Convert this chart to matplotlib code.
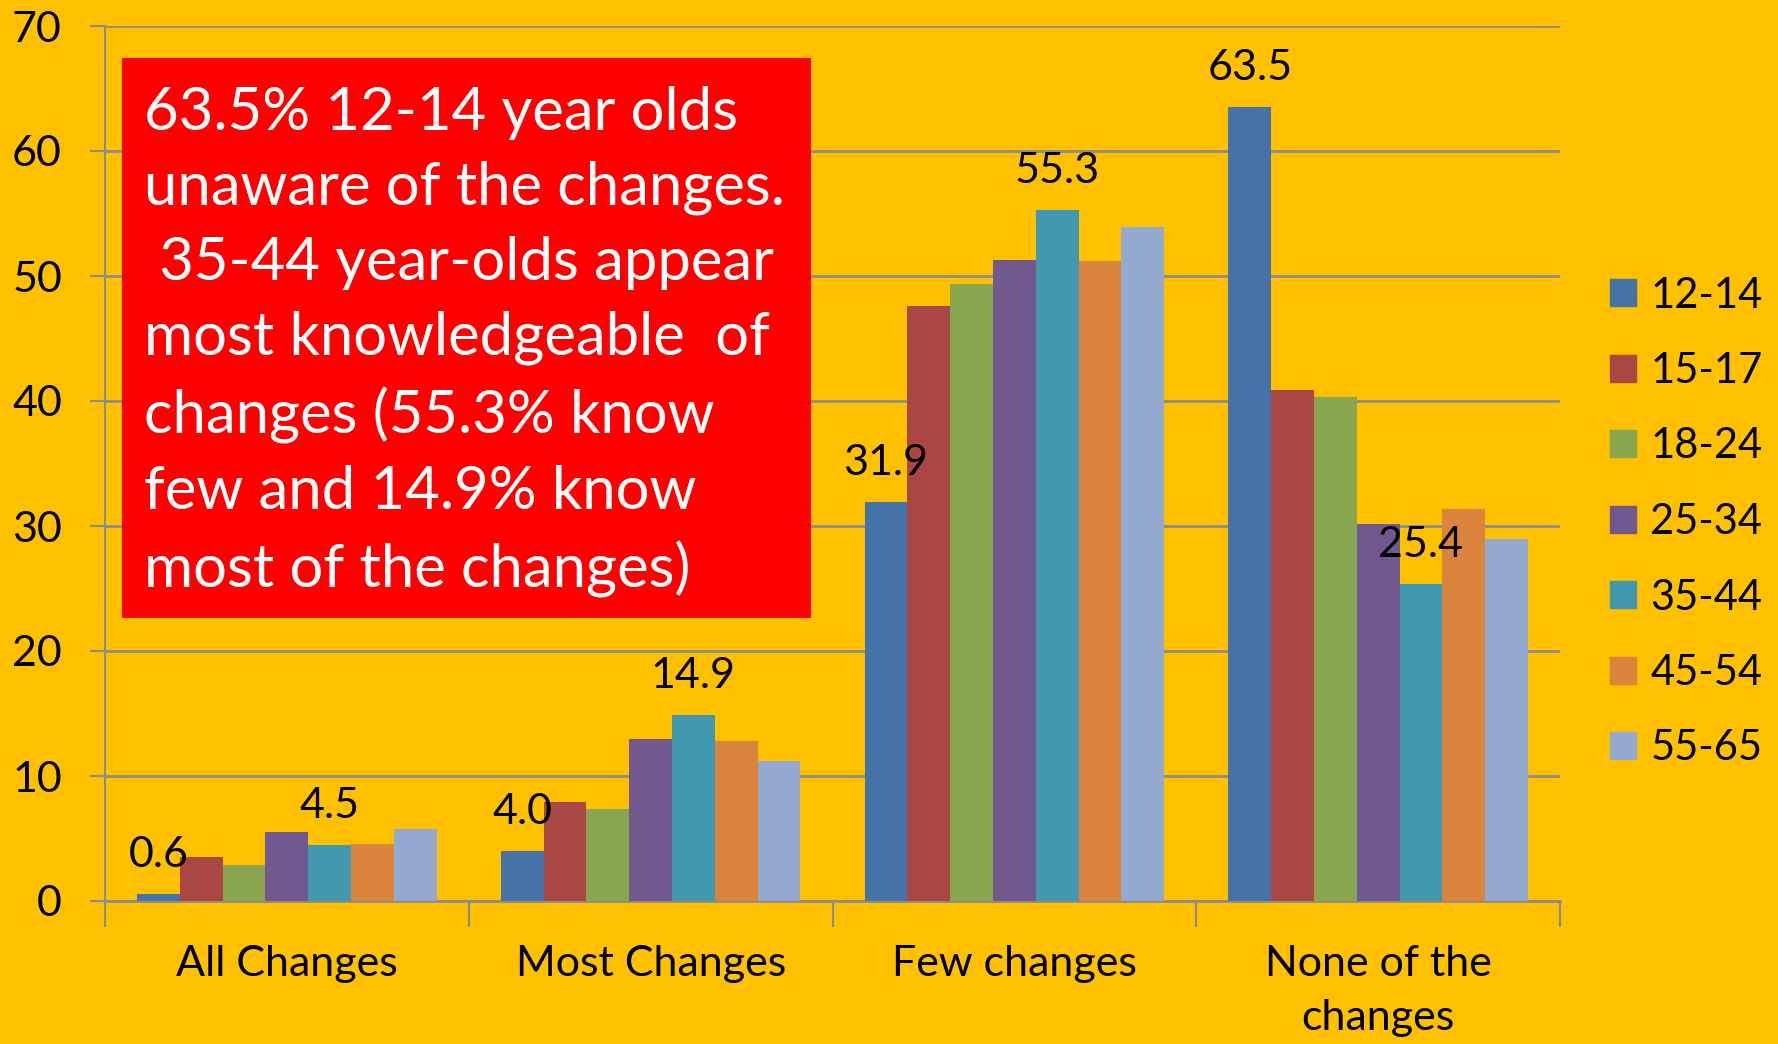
import matplotlib
matplotlib.use("Agg")
import matplotlib.pyplot as plt
import matplotlib.patches as mpatches
import numpy as np

categories = ["All Changes", "Most Changes", "Few changes", "None of the\nchanges"]
age_groups = ["12-14", "15-17", "18-24", "25-34", "35-44", "45-54", "55-65"]
all_changes = [0.6, 3.5, 2.9, 5.5, 4.5, 4.6, 5.8]
most_changes = [4.0, 7.9, 7.4, 13.0, 14.9, 12.8, 11.2]
few_changes = [31.9, 47.6, 49.4, 51.3, 55.3, 51.2, 53.9]
none_changes = [63.5, 40.9, 40.3, 30.2, 25.4, 31.4, 29.0]
labelled_groups = ["12-14", "35-44"]
y_ticks = [0, 10, 20, 30, 40, 50, 60, 70]
note_lines = [
    "63.5% 12-14 year olds",
    "unaware of the changes.",
    " 35-44 year-olds appear",
    "most knowledgeable  of",
    "changes (55.3% know",
    "few and 14.9% know",
    "most of the changes)",
]

colors = ["#4572A7", "#AA4643", "#89A54E", "#71588F", "#4198AF", "#DB843D", "#93A9CF"]
bg = "#FFC000"
grid_col = "#8C8C8C"

plt.rcParams["font.family"] = ["Lato", "DejaVu Sans"]

values = np.array([all_changes, most_changes, few_changes, none_changes])  # category x group

fig = plt.figure(figsize=(17.78, 10.44), dpi=100, facecolor=bg)
ax = fig.add_axes([105 / 1778, 143 / 1044, 1455 / 1778, 875 / 1044])
ax.set_facecolor(bg)

n = len(age_groups)
bw = 1 / (n + 1.5)
x = np.arange(len(categories))
for i, g in enumerate(age_groups):
    pos = x + (i - (n - 1) / 2) * bw
    ax.bar(pos, values[:, i], width=bw, color=colors[i], label=g, zorder=3)
    if g in labelled_groups:
        for xp, v in zip(pos, values[:, i]):
            ax.annotate(f"{v:.1f}", (xp, v), xytext=(0, 28), textcoords="offset points",
                        ha="center", va="center", fontsize=31, color="black", zorder=5)

ax.set_xlim(-0.5, len(categories) - 0.5)
ax.set_ylim(0, 70)
ax.set_yticks(y_ticks)
ax.set_yticklabels([str(t) for t in y_ticks], fontsize=31)
ax.yaxis.grid(True, color=grid_col, linewidth=2, zorder=0)
ax.tick_params(axis="y", length=11, width=1.5, color=grid_col, pad=20)

ax.set_xticks(x)
ax.set_xticklabels(categories, fontsize=31, linespacing=1.5)
ax.set_xticks(np.arange(len(categories) + 1) - 0.5, minor=True)
ax.tick_params(axis="x", which="major", length=0, pad=32)
ax.tick_params(axis="x", which="minor", length=19, width=1.5, color=grid_col)

for s in ["top", "right"]:
    ax.spines[s].set_visible(False)
ax.spines["left"].set_color(grid_col)
ax.spines["left"].set_linewidth(1.5)
ax.spines["bottom"].set_color(grid_col)
ax.spines["bottom"].set_linewidth(2)

# red note box
box = mpatches.Rectangle((122 / 1778, 1 - 618 / 1044), 689 / 1778, 560 / 1044,
                         transform=fig.transFigure, facecolor="#FF0000",
                         edgecolor="none", zorder=10)
fig.patches.append(box)
fig.text(144 / 1778, 1 - 86 / 1044, "\n".join(note_lines), color="white",
         fontsize=43, ha="left", va="top", linespacing=1.47, zorder=11)

handles = [mpatches.Patch(color=c, label=g) for c, g in zip(colors, age_groups)]
fig.legend(handles=handles, loc="center left", bbox_to_anchor=(1610 / 1778, 1 - 522 / 1044),
           frameon=False, fontsize=30, handlelength=0.63, handleheight=0.63,
           handletextpad=0.34, labelspacing=0.9, borderpad=0, borderaxespad=0)

fig.savefig("out.png", dpi=100, facecolor=bg)
